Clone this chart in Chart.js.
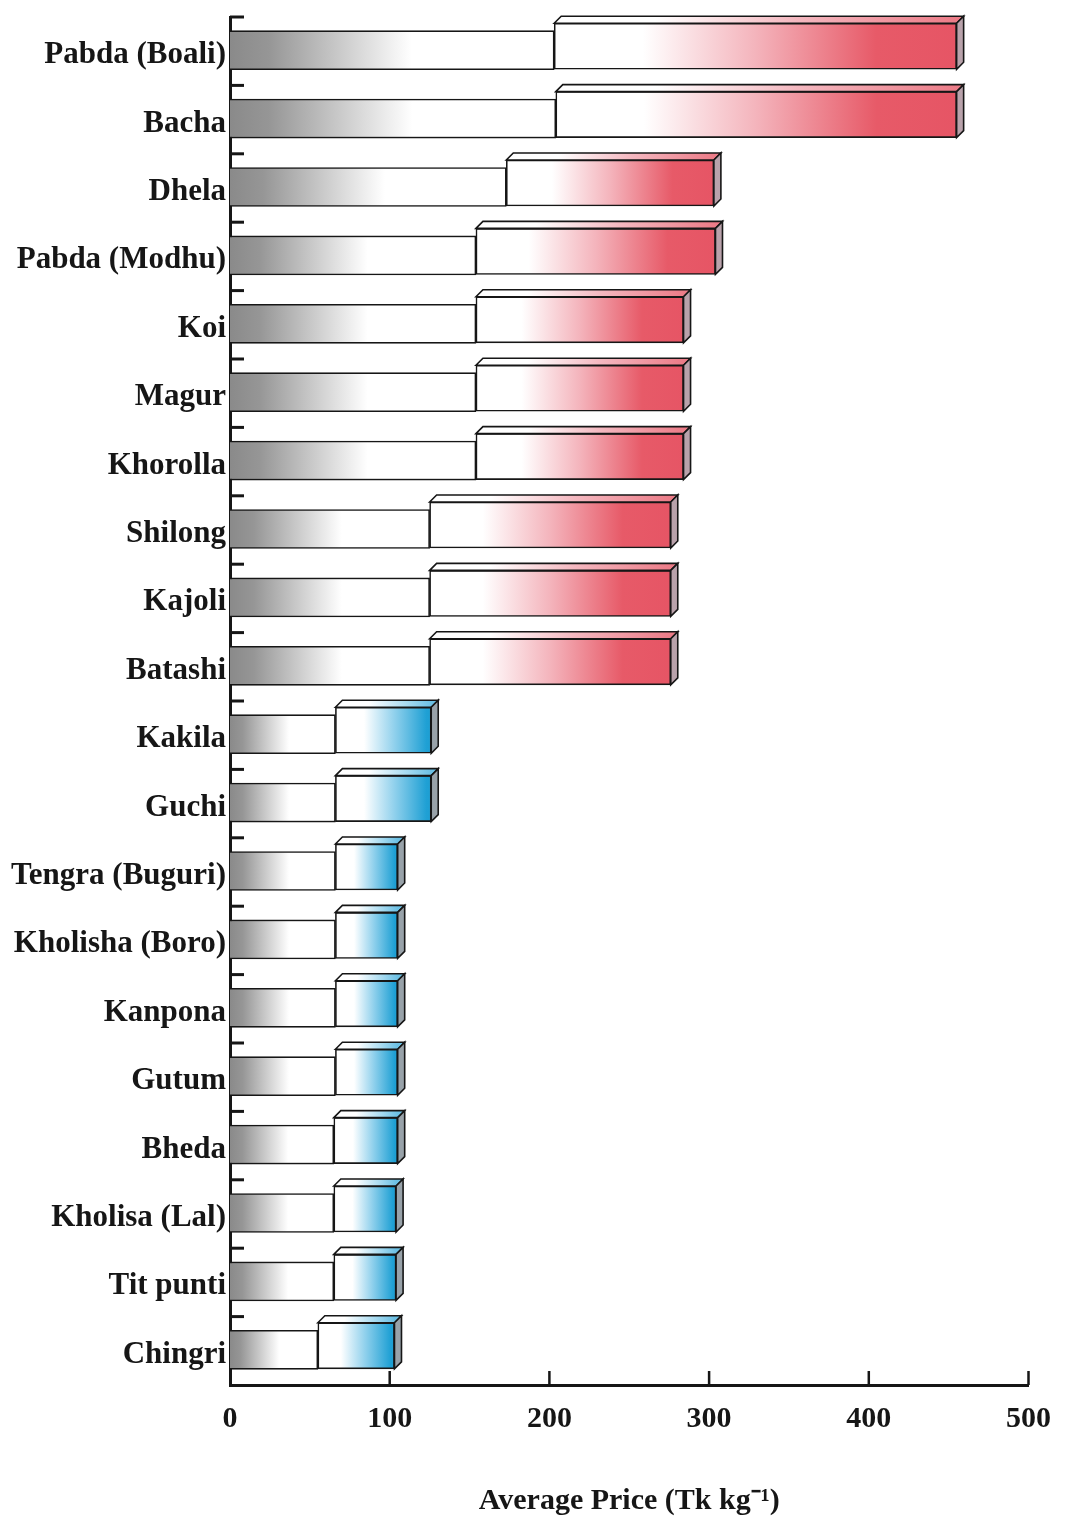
<!DOCTYPE html>
<html>
<head>
<meta charset="utf-8">
<title>Average price of fish species</title>
<script src="https://cdn.jsdelivr.net/npm/chart.js@4.4.1/dist/chart.umd.min.js"></script>
<style>
  html, body { margin: 0; padding: 0; background: #ffffff; }
  #wrap { width: 1067px; height: 1525px; }
</style>
</head>
<body>
<div id="wrap"><canvas id="chart" width="1067" height="1525"></canvas></div>
<script>
// Species, from most to least expensive
const species = [
  'Pabda (Boali)', 'Bacha', 'Dhela', 'Pabda (Modhu)', 'Koi', 'Magur', 'Khorolla',
  'Shilong', 'Kajoli', 'Batashi', 'Kakila', 'Guchi', 'Tengra (Buguri)',
  'Kholisha (Boro)', 'Kanpona', 'Gutum', 'Bheda', 'Kholisa (Lal)', 'Tit punti', 'Chingri'
];

// Lowest and highest average price, Tk per kg
const minPrice = [203, 204, 173, 154, 154, 154, 154, 125, 125, 125, 66, 66, 66, 66, 66, 66, 65, 65, 65, 55];
const maxPrice = [455, 455, 303, 304, 284, 284, 284, 276, 276, 276, 126, 126, 105, 105, 105, 105, 105, 104, 104, 103];

// Price class of each species (high-value vs low-value fish)
const priceGroup = ['high', 'high', 'high', 'high', 'high', 'high', 'high', 'high', 'high', 'high',
                    'low', 'low', 'low', 'low', 'low', 'low', 'low', 'low', 'low', 'low'];

// Value axis ticks
const xTicks = [0, 100, 200, 300, 400, 500];

// ---- styling ----
const INK = '#161616';
const DEPTH = 7;          // 3D depth of the price-range boxes
const BOX_SHIFT = -5;     // vertical placement of the range boxes within a row
const SEG_SHIFT = -1;     // vertical placement of the lower-price bars
const palettes = {
  high: {
    front: [[0, '#ffffff'], [0.22, '#ffffff'], [0.5, '#f4b4bc'], [0.8, '#e75a68'], [1, '#e65565']],
    top:   [[0, '#ffffff'], [0.25, '#ffffff'], [0.6, '#f4b8c0'], [1, '#ec7c88']],
    side: '#b9a2ab'
  },
  low: {
    front: [[0, '#ffffff'], [0.3, '#ffffff'], [0.62, '#8fd0ec'], [0.95, '#1fa0d4'], [1, '#1d9ed2']],
    top:   [[0, '#ffffff'], [0.35, '#ffffff'], [0.75, '#a6daf0'], [1, '#6cc0e4']],
    side: '#98a2a9'
  }
};
const greyStops = [[0, '#8a8a8a'], [0.12, '#969696'], [0.56, '#ffffff'], [1, '#ffffff']];

function linearFill(ctx2d, x0, x1, stops) {
  const g = ctx2d.createLinearGradient(x0, 0, x1, 0);
  stops.forEach(([o, c]) => g.addColorStop(o, c));
  return g;
}

function barFill(context, stopsFor) {
  const chart = context.chart;
  if (!chart.chartArea || !context.raw || !chart.scales.x) return '#ffffff';
  const xs = chart.scales.x;
  const x0 = xs.getPixelForValue(context.raw[0]);
  const x1 = xs.getPixelForValue(context.raw[1]);
  return linearFill(chart.ctx, x0, x1, stopsFor(context.dataIndex));
}

// Draws row shifts, 3D faces of the range boxes and inward axis ticks
const boxDecor = {
  id: 'boxDecor',
  beforeDatasetDraw(chart, args) {
    chart.ctx.save();
    chart.ctx.translate(0, args.index === 0 ? SEG_SHIFT : BOX_SHIFT);
  },
  afterDatasetDraw(chart) {
    chart.ctx.restore();
  },
  afterDatasetsDraw(chart) {
    const ctx = chart.ctx;
    const meta = chart.getDatasetMeta(1);
    ctx.save();
    ctx.lineJoin = 'miter';
    meta.data.forEach((el, i) => {
      const p = el.getProps(['x', 'y', 'base', 'height'], true);
      const pal = palettes[priceGroup[i]];
      const x0 = Math.min(p.base, p.x), x1 = Math.max(p.base, p.x);
      const top = p.y + BOX_SHIFT - p.height / 2;
      const bot = p.y + BOX_SHIFT + p.height / 2;
      // top face
      ctx.beginPath();
      ctx.moveTo(x0, top);
      ctx.lineTo(x0 + DEPTH, top - DEPTH);
      ctx.lineTo(x1 + DEPTH, top - DEPTH);
      ctx.lineTo(x1, top);
      ctx.closePath();
      ctx.fillStyle = linearFill(ctx, x0, x1, pal.top);
      ctx.fill();
      ctx.lineWidth = 1.6;
      ctx.strokeStyle = INK;
      ctx.stroke();
      // side face
      ctx.beginPath();
      ctx.moveTo(x1, top);
      ctx.lineTo(x1 + DEPTH, top - DEPTH);
      ctx.lineTo(x1 + DEPTH, bot - DEPTH);
      ctx.lineTo(x1, bot);
      ctx.closePath();
      ctx.fillStyle = pal.side;
      ctx.fill();
      ctx.stroke();
    });

    // inward category ticks at row boundaries
    const ys = chart.scales.y, xs = chart.scales.x;
    const left = chart.chartArea.left;
    const half = (ys.getPixelForValue(1) - ys.getPixelForValue(0)) / 2;
    ctx.strokeStyle = INK;
    ctx.lineWidth = 3;
    for (let i = 0; i < species.length; i++) {
      const yb = ys.getPixelForValue(i) - half;
      ctx.beginPath();
      ctx.moveTo(left, yb);
      ctx.lineTo(left + 14, yb);
      ctx.stroke();
    }
    // inward value ticks
    const bottom = chart.chartArea.bottom;
    ctx.lineWidth = 2.5;
    xTicks.slice(1).forEach(v => {
      const xp = xs.getPixelForValue(v);
      ctx.beginPath();
      ctx.moveTo(xp, bottom);
      ctx.lineTo(xp, bottom - 14);
      ctx.stroke();
    });
    ctx.restore();
  }
};

const serifBold = (size) => ({ family: "'Liberation Serif', 'Times New Roman', serif", size, weight: 'bold' });

new Chart(document.getElementById('chart'), {
  type: 'bar',
  data: {
    labels: species,
    datasets: [
      {
        label: 'Lowest price',
        data: minPrice.map(v => [0, v]),
        backgroundColor: (c) => barFill(c, () => greyStops),
        borderColor: INK,
        borderWidth: 1.6,
        borderSkipped: 'start',
        barThickness: 39,
        clip: false
      },
      {
        label: 'Price range',
        data: minPrice.map((v, i) => [v, maxPrice[i]]),
        backgroundColor: (c) => barFill(c, (i) => palettes[priceGroup[i]].front),
        borderColor: INK,
        borderWidth: 1.6,
        borderSkipped: false,
        barThickness: 46,
        clip: false
      }
    ]
  },
  options: {
    indexAxis: 'y',
    responsive: false,
    animation: false,
    grouped: false,
    layout: { padding: { top: 17, right: 35, bottom: 0, left: 0 } },
    plugins: { legend: { display: false }, tooltip: { enabled: false } },
    scales: {
      x: {
        type: 'linear',
        min: xTicks[0],
        max: xTicks[xTicks.length - 1],
        afterBuildTicks: (s) => { s.ticks = xTicks.map(v => ({ value: v })); },
        afterFit: (s) => { s.height = 140; },
        grid: { display: false, drawTicks: false },
        border: { display: true, width: 3, color: INK },
        ticks: { font: serifBold(30), color: INK, padding: 16, maxRotation: 0 },
        title: {
          display: true,
          text: 'Average Price (Tk kg\u207B\u00B9)',
          font: serifBold(30),
          color: INK,
          padding: { top: 0, bottom: 6 }
        }
      },
      y: {
        type: 'category',
        afterFit: (s) => { s.width = 230; s.paddingTop = 0; s.paddingBottom = 0; },
        grid: { display: false, drawTicks: false },
        border: { display: true, width: 3, color: INK },
        ticks: { font: serifBold(31), color: INK, padding: 4, labelOffset: 4, autoSkip: false }
      }
    }
  },
  plugins: [boxDecor]
});
</script>
</body>
</html>
